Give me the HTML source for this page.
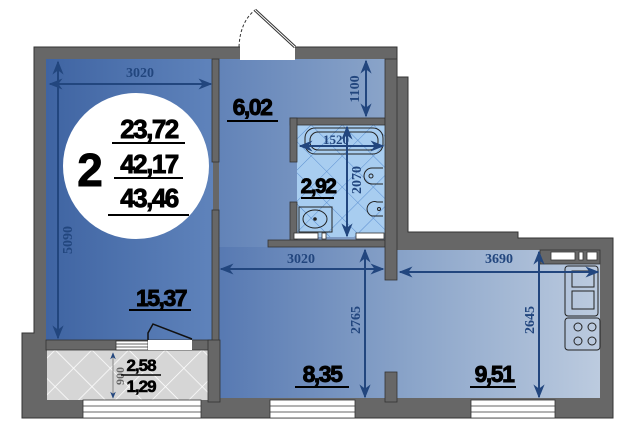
<!DOCTYPE html>
<html><head><meta charset="utf-8"><style>
html,body{margin:0;padding:0;background:#fff;width:640px;height:442px;overflow:hidden}
</style></head><body>
<svg width="640" height="442" viewBox="0 0 640 442" xmlns="http://www.w3.org/2000/svg" font-family="Liberation Sans, sans-serif">
<defs>
<linearGradient id="bed" x1="0" x2="1"><stop offset="0" stop-color="#3f64a2"/><stop offset="1" stop-color="#5f83bb"/></linearGradient>
<linearGradient id="hall" x1="0" x2="1"><stop offset="0" stop-color="#6283b8"/><stop offset="1" stop-color="#8aa4c9"/></linearGradient>
<linearGradient id="low" gradientUnits="userSpaceOnUse" x1="219" x2="600" y1="0" y2="0"><stop offset="0" stop-color="#5779b2"/><stop offset="0.5" stop-color="#8aa4c9"/><stop offset="1" stop-color="#bccbdf"/></linearGradient>
<pattern id="tile" width="22" height="22" patternUnits="userSpaceOnUse" patternTransform="rotate(45)"><rect width="22" height="22" fill="#a8cdf0"/><path d="M0 0H22M0 0V22" stroke="#5b8fd0" stroke-width="1"/></pattern>
<pattern id="balc" width="26" height="26" patternUnits="userSpaceOnUse" patternTransform="rotate(45)"><rect width="26" height="26" fill="#d6d6d6"/><path d="M0 0H26M0 0V26" stroke="#fff" stroke-width="1.5"/></pattern>
<marker id="a" viewBox="0 0 10 10" refX="9" refY="5" markerWidth="7" markerHeight="7" orient="auto-start-reverse"><path d="M0 1L10 5L0 9L3 5Z" fill="#22467e"/></marker>
</defs>
<path d="M34 47H397V77H408V232H518V238H613V418H22V333H34Z" fill="#676767" stroke="#333" stroke-width="1"/>
<rect x="46" y="59" width="167" height="281" fill="url(#bed)"/>
<rect x="219" y="59" width="166" height="190" fill="url(#hall)"/>
<rect x="219" y="247" width="166" height="151" fill="url(#low)"/>
<rect x="385" y="280" width="12" height="92" fill="url(#low)"/>
<rect x="397" y="250" width="203" height="148" fill="url(#low)"/>
<rect x="297" y="125" width="88" height="112" fill="url(#tile)"/>
<rect x="47" y="350" width="161" height="50" fill="url(#balc)"/>
<g fill="#676767" stroke="#333" stroke-width="0.8">
<rect x="212" y="59" width="7" height="103"/>
<rect x="212" y="210" width="7" height="190"/>
<rect x="290" y="118" width="95" height="7"/>
<rect x="290" y="118" width="7" height="44"/>
<rect x="290" y="202" width="7" height="40"/>
<rect x="268" y="240" width="117" height="7"/>
<rect x="385" y="59" width="12" height="221"/>
<rect x="385" y="372" width="12" height="30"/>
<rect x="46" y="340" width="166" height="10"/>
<rect x="208" y="340" width="12" height="62"/>
<rect x="540" y="250" width="60" height="14"/>
</g>
<rect x="240" y="46" width="55" height="14" fill="#fff"/>
<path d="M239 47Q240 22 255 10" fill="none" stroke="#333" stroke-dasharray="3,2"/>
<path d="M255 10L295 47" stroke="#333" stroke-width="3"/><path d="M255 10L295 47" stroke="#fff" stroke-width="1"/>
<g fill="#fff" stroke="#333" stroke-width="0.8">
<rect x="270" y="400" width="85" height="18"/><line x1="270" y1="406" x2="355" y2="406"/><line x1="270" y1="412" x2="355" y2="412"/>
<rect x="471" y="400" width="84" height="18"/><line x1="471" y1="406" x2="555" y2="406"/><line x1="471" y1="412" x2="555" y2="412"/>
<rect x="83" y="400" width="118" height="18"/><line x1="83" y1="406" x2="201" y2="406"/><line x1="83" y1="412" x2="201" y2="412"/>
<rect x="116" y="341" width="32" height="9"/><line x1="116" y1="344" x2="148" y2="344"/><line x1="116" y1="347" x2="148" y2="347"/>
<rect x="148" y="340" width="44" height="10" stroke="none"/>
<rect x="294" y="233" width="24" height="6"/><rect x="322" y="233" width="4" height="6"/><rect x="356" y="233" width="28" height="6"/>
<rect x="551" y="252" width="24" height="8"/><rect x="579" y="252" width="4" height="8"/><rect x="587" y="252" width="10" height="8"/>
</g>
<path d="M148 340V333L153 324L192 339" fill="none" stroke="#111" stroke-width="1.5"/>
<g fill="none" stroke="#222" stroke-width="1">
<rect x="305" y="128" width="78" height="26" rx="10"/><rect x="310" y="132" width="68" height="18" rx="8"/>
<path d="M383 168H372A8 8 0 0 0 372 184H383"/><circle cx="371" cy="176" r="2"/>
<path d="M383 202H377A7 7 0 1 0 372 216H383"/><circle cx="379" cy="209" r="1.5"/>
<rect x="299" y="207" width="33" height="25"/><ellipse cx="315" cy="219" rx="12" ry="9"/><circle cx="315" cy="219" r="1.3" fill="#222"/>
</g>
<g fill="none" stroke="#222" stroke-width="1">
<rect x="565" y="266" width="33" height="50" rx="3"/><rect x="572" y="271" width="22" height="16"/><rect x="572" y="291" width="22" height="18"/>
<rect x="565" y="318" width="35" height="32" rx="3"/><circle cx="578" cy="327" r="4"/><circle cx="592" cy="327" r="4"/><circle cx="578" cy="341" r="4"/><circle cx="592" cy="341" r="4"/>
</g>
<g stroke="#22467e" stroke-width="2" fill="none">
<line x1="50" y1="84" x2="211" y2="84" marker-start="url(#a)" marker-end="url(#a)"/>
<line x1="58" y1="62" x2="58" y2="338" marker-start="url(#a)" marker-end="url(#a)"/>
<line x1="366" y1="61" x2="366" y2="116" marker-start="url(#a)" marker-end="url(#a)"/>
<line x1="300" y1="146" x2="383" y2="146" marker-start="url(#a)" marker-end="url(#a)"/>
<line x1="347" y1="127" x2="347" y2="236" marker-start="url(#a)" marker-end="url(#a)"/>
<line x1="221" y1="269" x2="383" y2="269" marker-start="url(#a)" marker-end="url(#a)"/>
<line x1="365" y1="250" x2="365" y2="397" marker-start="url(#a)" marker-end="url(#a)"/>
<line x1="400" y1="272" x2="598" y2="272" marker-start="url(#a)" marker-end="url(#a)"/>
<line x1="539" y1="252" x2="539" y2="397" marker-start="url(#a)" marker-end="url(#a)"/>
<line x1="113" y1="353" x2="113" y2="398" stroke="#888" stroke-width="1" marker-start="url(#a)" marker-end="url(#a)"/>
</g>
<g fill="#22467e" font-family="Liberation Serif, serif" font-weight="bold" font-size="14">
<text x="140" y="77" text-anchor="middle">3020</text>
<text x="301" y="263" text-anchor="middle">3020</text>
<text x="499" y="263" text-anchor="middle">3690</text>
<text x="336" y="144" text-anchor="middle" font-size="13">1520</text>
<text transform="translate(72 240) rotate(-90)" text-anchor="middle">5090</text>
<text transform="translate(359 89) rotate(-90)" text-anchor="middle">1100</text>
<text transform="translate(361 180) rotate(-90)" text-anchor="middle">2070</text>
<text transform="translate(360 320) rotate(-90)" text-anchor="middle">2765</text>
<text transform="translate(534 320) rotate(-90)" text-anchor="middle">2645</text>
<text transform="translate(124 376) rotate(-90)" text-anchor="middle" fill="#666" font-size="12">900</text>
</g>
<circle cx="136" cy="166" r="73" fill="#fff"/>
<g font-weight="bold" fill="#000" stroke="#000" stroke-width="0.9" text-anchor="middle">
<text x="90" y="186" font-size="46">2</text>
<text x="149" y="138" font-size="26" letter-spacing="-1.5">23,72</text>
<text x="149" y="173" font-size="26" letter-spacing="-1.5">42,17</text>
<text x="149" y="207" font-size="26" letter-spacing="-1.5">43,46</text>
<text x="252" y="115" font-size="23" letter-spacing="-1.5">6,02</text>
<text x="318" y="193" font-size="21" letter-spacing="-1.5">2,92</text>
<text x="161" y="306" font-size="23" letter-spacing="-1.5">15,37</text>
<text x="322" y="382" font-size="23" letter-spacing="-1.5">8,35</text>
<text x="494" y="382" font-size="23" letter-spacing="-1.5">9,51</text>
<text x="141" y="371" font-size="17" letter-spacing="-1" stroke-width="0.6">2,58</text>
<text x="141" y="392" font-size="17" letter-spacing="-1" stroke-width="0.6">1,29</text>
</g>
<g stroke="#000" stroke-width="2">
<line x1="112" y1="143" x2="185" y2="143"/><line x1="114" y1="178" x2="183" y2="178"/><line x1="108" y1="215" x2="189" y2="215"/>
<line x1="227" y1="121" x2="278" y2="121"/><line x1="301" y1="198" x2="334" y2="198"/>
<line x1="129" y1="310" x2="191" y2="310"/><line x1="295" y1="387" x2="349" y2="387"/><line x1="470" y1="387" x2="516" y2="387"/>
<line x1="121" y1="375" x2="161" y2="375" stroke-width="1.5"/>
</g>
</svg>
</body></html>
